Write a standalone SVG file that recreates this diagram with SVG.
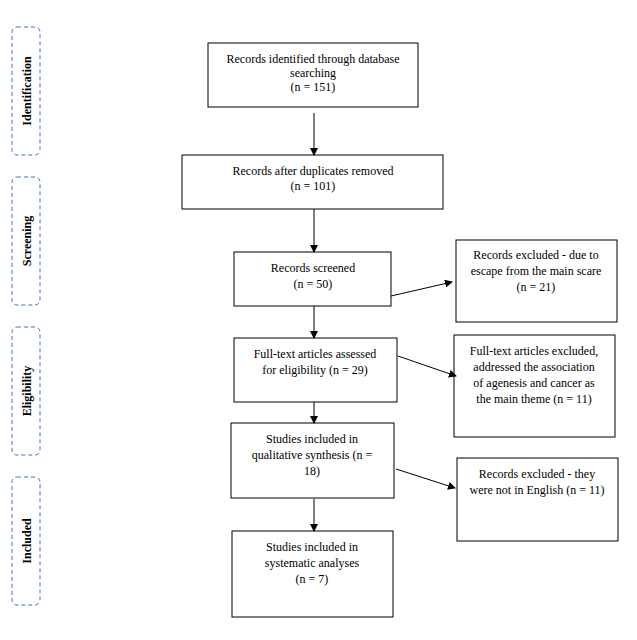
<svg xmlns="http://www.w3.org/2000/svg" width="637" height="640" viewBox="0 0 637 640">
<style>
.b{fill:#fff;stroke:#000;stroke-width:1}
.s{fill:none;stroke:#4472c4;stroke-width:1;stroke-dasharray:4 3}
text{font-family:"Liberation Serif","DejaVu Serif",serif;font-size:12px;text-anchor:middle;fill:#000}
.l{font-weight:bold;font-size:12px}
.c line{stroke:#000;stroke-width:1;marker-end:url(#a)}
</style>
<defs><marker id="a" markerWidth="8" markerHeight="8" refX="7" refY="4" orient="auto" markerUnits="userSpaceOnUse"><path d="M0,0L8,4L0,8z" fill="#000"/></marker></defs>
<rect width="637" height="640" fill="#fff"/>
<g id="stage-identification"><rect class="s" x="12" y="27" width="28" height="128" rx="5"/><text class="l" transform="translate(31,91) rotate(-90)">Identification</text></g>
<g id="stage-screening"><rect class="s" x="12" y="177" width="28" height="128" rx="5"/><text class="l" transform="translate(31,241) rotate(-90)">Screening</text></g>
<g id="stage-eligibility"><rect class="s" x="12" y="327" width="28" height="128" rx="5"/><text class="l" transform="translate(31,391) rotate(-90)">Eligibility</text></g>
<g id="stage-included"><rect class="s" x="12" y="477" width="28" height="128" rx="5"/><text class="l" transform="translate(31,541) rotate(-90)">Included</text></g>
<g id="n1"><rect class="b" x="208" y="43" width="210" height="64"/><text x="313" y="63">Records identified through database</text><text x="313" y="77">searching</text><text x="313" y="91">(n = 151)</text></g>
<g id="n2"><rect class="b" x="182" y="155" width="261" height="54"/><text x="313" y="175">Records after duplicates removed</text><text x="313" y="190">(n = 101)</text></g>
<g id="n3"><rect class="b" x="234" y="252" width="157" height="54"/><text x="313" y="272">Records screened</text><text x="313" y="288">(n = 50)</text></g>
<g id="n4"><rect class="b" x="234" y="338" width="163" height="64"/><text x="315" y="358">Full-text articles assessed</text><text x="315" y="374">for eligibility (n = 29)</text></g>
<g id="n5"><rect class="b" x="231" y="423" width="163" height="75"/><text x="312" y="443">Studies included in</text><text x="312" y="459">qualitative synthesis (n =</text><text x="312" y="475">18)</text></g>
<g id="n6"><rect class="b" x="232" y="531" width="161" height="86"/><text x="312" y="551">Studies included in</text><text x="312" y="567">systematic analyses</text><text x="312" y="583">(n = 7)</text></g>
<g id="r1"><rect class="b" x="456" y="240" width="161" height="82"/><text x="536" y="259">Records excluded - due to</text><text x="536" y="275">escape from the main scare</text><text x="536" y="291">(n = 21)</text></g>
<g id="r2"><rect class="b" x="454" y="335" width="161" height="102"/><text x="534" y="355">Full-text articles excluded,</text><text x="534" y="371">addressed the association</text><text x="534" y="387">of agenesis and cancer as</text><text x="534" y="403">the main theme (n = 11)</text></g>
<g id="r3"><rect class="b" x="457" y="458" width="161" height="83"/><text x="537" y="478">Records excluded - they</text><text x="537" y="494">were not in English (n = 11)</text></g>
<g class="c" id="connectors">
<line x1="314" y1="113" x2="314" y2="155"/>
<line x1="314" y1="209" x2="314" y2="252"/>
<line x1="314" y1="306" x2="314" y2="338"/>
<line x1="314" y1="402" x2="314" y2="423"/>
<line x1="314" y1="499" x2="314" y2="531"/>
<line x1="391" y1="296" x2="452" y2="282"/>
<line x1="398" y1="356" x2="456" y2="376"/>
<line x1="396" y1="469" x2="455" y2="488"/>
</g>
</svg>
